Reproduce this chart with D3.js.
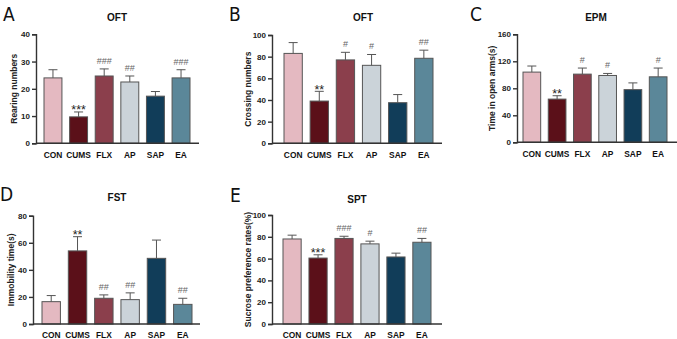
<!DOCTYPE html>
<html>
<head>
<meta charset="utf-8">
<script src="https://cdn.jsdelivr.net/npm/d3@7"></script>
<style>
  body { margin: 0; background: #fff; }
  svg { display: block; font-family: "Liberation Sans", Arial, sans-serif; }
</style>
</head>
<body>
<div id="chart"></div>
<script>
// groups shared by all panels
let groups = ["CON", "CUMS", "FLX", "AP", "SAP", "EA"];
let colors = ["#e4b9c1", "#5b1019", "#8b3f4c", "#cbd3d9", "#113d59", "#5b8799"];

// A - OFT rearing
let rearingMean = [24, 9.7, 24.7, 22.5, 17.3, 24];
let rearingErr  = [27, 11.5, 27.3, 24.7, 19, 27];
let rearingSig  = ["", "***", "###", "##", "", "###"];
let rearingTicks = [0, 10, 20, 30, 40];

// B - OFT crossing
let crossingMean = [83, 39, 77, 72, 37.5, 78.5];
let crossingErr  = [93, 48, 84, 82, 45, 86];
let crossingSig  = ["", "**", "#", "#", "", "##"];
let crossingTicks = [0, 20, 40, 60, 80, 100];

// C - EPM
let epmMean = [104, 64, 101, 99, 78, 97];
let epmErr  = [113, 69, 110, 102, 88, 110];
let epmSig  = ["", "**", "#", "#", "", "#"];
let epmTicks = [0, 40, 80, 120, 160];

// D - FST
let fstMean = [16.5, 54, 19, 18, 48.5, 14.5];
let fstErr  = [21, 64.5, 21.5, 23, 62, 19];
let fstSig  = ["", "**", "##", "##", "", "##"];
let fstTicks = [0, 20, 40, 60, 80];

// E - SPT
let sptMean = [78, 60.5, 78.5, 73.5, 61.5, 75];
let sptErr  = [81.5, 63.5, 80.5, 76, 65, 78.5];
let sptSig  = ["", "***", "###", "#", "", "##"];
let sptTicks = [0, 20, 40, 60, 80, 100];

function main(){
    let width = 677, height = 339;
    let svg = d3.select("#chart").append("svg")
                .attr("width", width)
                .attr("height", height);

    let panels = [
        {letter: "A", lx: 3, ly: 21, title: "OFT", tx: 117, ty: 21, ylabel: "Rearing numbers", yl: 14,
         ax: 36, x0: 44, x1: 190, xEnd: 199, yTop: 34.3, yBot: 143.3, max: 40,
         mean: rearingMean, err: rearingErr, sig: rearingSig, ticks: rearingTicks},
        {letter: "B", lx: 229, ly: 21, title: "OFT", tx: 363, ty: 21, ylabel: "Crossing numbers", yl: 248,
         ax: 272, x0: 284, x1: 433, xEnd: 442, yTop: 35, yBot: 143.3, max: 100,
         mean: crossingMean, err: crossingErr, sig: crossingSig, ticks: crossingTicks},
        {letter: "C", lx: 470, ly: 21, title: "EPM", tx: 596, ty: 21, ylabel: "Time in open arms(s)", yl: 492,
         ax: 517, x0: 523, x1: 667, xEnd: 677, yTop: 34.3, yBot: 142.3, max: 160,
         mean: epmMean, err: epmErr, sig: epmSig, ticks: epmTicks},
        {letter: "D", lx: 0, ly: 201, title: "FST", tx: 117, ty: 201, ylabel: "Immobility time(s)", yl: 11,
         ax: 33, x0: 42, x1: 192, xEnd: 200, yTop: 215.7, yBot: 324, max: 80,
         mean: fstMean, err: fstErr, sig: fstSig, ticks: fstTicks},
        {letter: "E", lx: 230, ly: 202, title: "SPT", tx: 357, ty: 203, ylabel: "Sucrose preference rates(%)", yl: 248,
         ax: 272, x0: 283, x1: 431, xEnd: 442, yTop: 215, yBot: 324, max: 100,
         mean: sptMean, err: sptErr, sig: sptSig, ticks: sptTicks}
    ];

    panels.forEach(drawPanel);

    function drawPanel(p){
        let g = svg.append("g");

        let xScale = d3.scaleBand()
                        .domain(groups)
                        .range([p.x0, p.x1])
                        .paddingInner(0.3)
                        .paddingOuter(0);

        let yScale = d3.scaleLinear()
                        .domain([0, p.max])
                        .range([p.yBot, p.yTop]);

        let rows = groups.map((name, i) => ({name: name, mean: p.mean[i], err: p.err[i], sig: p.sig[i], color: colors[i]}));

        // bars
        g.selectAll("rect.bar").data(rows).enter()
            .append("rect")
            .attr("x", d => xScale(d.name))
            .attr("y", d => yScale(d.mean))
            .attr("width", xScale.bandwidth())
            .attr("height", d => yScale(0) - yScale(d.mean))
            .attr("fill", d => d.color)
            .attr("stroke", "#555")
            .attr("stroke-width", 1);

        // error bars (upper only)
        let cap = 4.5;
        let eb = g.selectAll("g.err").data(rows).enter().append("g");
        eb.append("line")
            .attr("x1", d => xScale(d.name) + xScale.bandwidth()/2)
            .attr("x2", d => xScale(d.name) + xScale.bandwidth()/2)
            .attr("y1", d => yScale(d.mean))
            .attr("y2", d => yScale(d.err))
            .attr("stroke", "#555").attr("stroke-width", 1);
        eb.append("line")
            .attr("x1", d => xScale(d.name) + xScale.bandwidth()/2 - cap)
            .attr("x2", d => xScale(d.name) + xScale.bandwidth()/2 + cap)
            .attr("y1", d => yScale(d.err))
            .attr("y2", d => yScale(d.err))
            .attr("stroke", "#555").attr("stroke-width", 1);

        // significance marks
        g.selectAll("text.sig").data(rows.filter(d => d.sig)).enter()
            .append("text")
            .attr("x", d => xScale(d.name) + xScale.bandwidth()/2)
            .attr("y", d => d.sig[0] == "*" ? yScale(d.err) + 2.5 : yScale(d.err) - 5)
            .attr("text-anchor", "middle")
            .attr("font-size", d => d.sig[0] == "*" ? 12.5 : 9)
            .attr("fill", d => d.sig[0] == "*" ? "#222" : "#666")
            .text(d => d.sig);

        // y axis
        let yAxis = d3.axisLeft(yScale).tickValues(p.ticks).tickSize(4).tickPadding(2);
        let ya = g.append("g")
            .attr("transform", `translate(${p.ax},0)`)
            .call(yAxis);
        ya.select(".domain").attr("stroke", "#333").attr("stroke-width", 1.4);
        ya.selectAll(".tick line").attr("stroke", "#333").attr("stroke-width", 1.4);
        ya.selectAll(".tick text")
            .attr("font-size", 8).attr("font-weight", "bold").attr("fill", "#222")
            .attr("font-family", "Liberation Sans, Arial, sans-serif");

        // x axis line
        g.append("line")
            .attr("x1", p.ax).attr("x2", p.xEnd)
            .attr("y1", p.yBot).attr("y2", p.yBot)
            .attr("stroke", "#333").attr("stroke-width", 1.4);

        // category labels
        g.selectAll("text.cat").data(groups).enter()
            .append("text")
            .attr("x", d => xScale(d) + xScale.bandwidth()/2)
            .attr("y", p.yBot + 14.3)
            .attr("text-anchor", "middle")
            .attr("font-size", 8.4).attr("font-weight", "bold").attr("fill", "#111")
            .text(d => d);

        // y label
        g.append("text")
            .attr("transform", `translate(${p.yl},${(p.yTop + p.yBot)/2}) rotate(-90)`)
            .attr("dy", "0.35em")
            .attr("text-anchor", "middle")
            .attr("font-size", 8.5).attr("font-weight", "bold").attr("fill", "#222")
            .text(p.ylabel);

        // title
        g.append("text")
            .attr("x", p.tx).attr("y", p.ty)
            .attr("text-anchor", "middle")
            .attr("font-size", 10).attr("font-weight", "bold").attr("fill", "#111")
            .text(p.title);

        // panel letter
        g.append("text")
            .attr("x", p.lx).attr("y", p.ly)
            .attr("font-size", 19).attr("fill", "#111")
            .attr("font-family", "DejaVu Sans Condensed, Liberation Sans Narrow, sans-serif")
            .text(p.letter);
    }
}

main();
</script>
</body>
</html>
